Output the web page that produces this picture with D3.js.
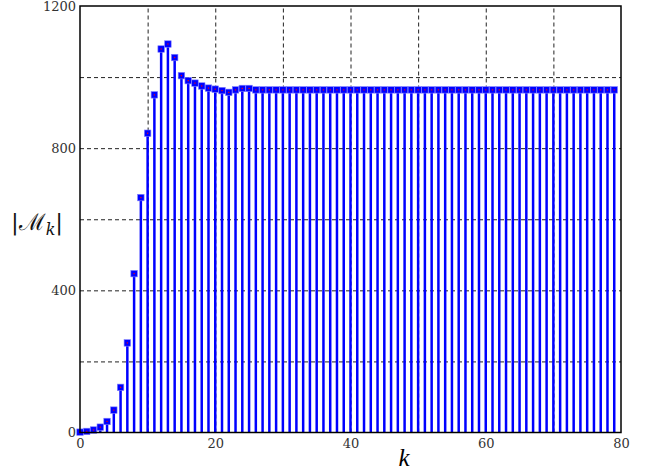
<!DOCTYPE html>
<html>
<head>
<meta charset="utf-8">
<script src="https://cdn.jsdelivr.net/npm/d3@7"></script>
<style>
  body { margin: 0; background: #fff; }
  svg { display: block; }
  .tick text { font-family: "DejaVu Serif", serif; font-size: 13px; fill: #333; }
  .grid line { stroke: #222; stroke-dasharray: 4,3; stroke-width: 1; }
  .grid path { display: none; }
</style>
</head>
<body>
<svg id="chart" width="647" height="474"></svg>
<script>
// k = 0..79
var kValues = [0,1,2,3,4,5,6,7,8,9,10,11,12,13,14,15,16,17,18,19,
               20,21,22,23,24,25,26,27,28,29,30,31,32,33,34,35,36,37,38,39,
               40,41,42,43,44,45,46,47,48,49,50,51,52,53,54,55,56,57,58,59,
               60,61,62,63,64,65,66,67,68,69,70,71,72,73,74,75,76,77,78,79];
var mValues = [1,3,7,15,31,63,127,252,447,661,842,950,1079,1093,1055,1004,990,983,975,969,
               966,962,957,964,968,968,964,964,964,964,964,964,964,964,964,964,964,964,964,964,
               964,964,964,964,964,964,964,964,964,964,964,964,964,964,964,964,964,964,964,964,
               964,964,964,964,964,964,964,964,964,964,964,964,964,964,964,964,964,964,964,964];
var xTicks = [0, 20, 40, 60, 80];
var yTicks = [0, 400, 800, 1200];
var xGrid  = [10, 20, 30, 40, 50, 60, 70];
var yGrid  = [200, 400, 600, 800, 1000];

var svg = d3.select('#chart'),
    margin = {top: 6, left: 80, right: 26, bottom: 41.5},
    width  = +svg.attr('width') - margin.left - margin.right,
    height = +svg.attr('height') - margin.top - margin.bottom,
    g = svg.append('g').attr('transform', 'translate(' + margin.left + ',' + margin.top + ')');

var x = d3.scaleLinear().domain([0, 80]).range([0, width]);
var y = d3.scaleLinear().domain([0, 1200]).range([height, 0]);

// grid
g.append('g')
    .attr('class', 'grid')
    .call(d3.axisLeft(y).tickValues(yGrid).tickSize(-width).tickFormat(''));
g.append('g')
    .attr('class', 'grid')
    .attr('transform', 'translate(0,' + height + ')')
    .call(d3.axisBottom(x).tickValues(xGrid).tickSize(-height).tickFormat(''))
  .selectAll('line').attr('stroke', '#444');

// stems
var data = kValues.map(function(k, i) { return {k: k, v: mValues[i]}; });
g.selectAll('.stem')
    .data(data)
  .enter().append('line')
    .attr('class', 'stem')
    .attr('x1', function(d) { return x(d.k); })
    .attr('x2', function(d) { return x(d.k); })
    .attr('y1', y(0))
    .attr('y2', function(d) { return y(d.v); })
    .attr('stroke', '#0000ff')
    .attr('stroke-width', 2.5);

// markers
var ms = 6.5;
g.selectAll('.mark')
    .data(data)
  .enter().append('rect')
    .attr('class', 'mark')
    .attr('x', function(d) { return x(d.k) - ms/2; })
    .attr('y', function(d) { return y(d.v) - ms/2; })
    .attr('width', ms).attr('height', ms)
    .attr('fill', '#0000ff')
    .attr('stroke', '#8080ff').attr('stroke-width', 0.6);
g.selectAll('.dot')
    .data(data)
  .enter().append('rect')
    .attr('class', 'dot')
    .attr('x', function(d) { return x(d.k) - 0.6; })
    .attr('y', function(d) { return y(d.v) - 0.6; })
    .attr('width', 1.2).attr('height', 1.2)
    .attr('fill', '#ff0000');

// frame
g.append('rect')
    .attr('width', width).attr('height', height)
    .attr('fill', 'none').attr('stroke', '#000').attr('stroke-width', 1.5);

// tick labels
var yAx = g.append('g')
    .call(d3.axisLeft(y).tickValues(yTicks).tickSize(0).tickPadding(4).tickFormat(d3.format('d')));
yAx.select('.domain').remove();
var xAx = g.append('g')
    .attr('transform', 'translate(0,' + height + ')')
    .call(d3.axisBottom(x).tickValues(xTicks).tickSize(0).tickPadding(6).tickFormat(d3.format('d')));
xAx.select('.domain').remove();

// axis labels
svg.append('text')
    .attr('x', 404).attr('y', 466)
    .attr('text-anchor', 'middle')
    .style('font-family', '"Liberation Serif", serif')
    .style('font-style', 'italic')
    .style('font-size', '25px')
    .text('k');

var yl = svg.append('text')
    .attr('x', 37).attr('y', 230)
    .attr('text-anchor', 'middle')
    .style('font-family', '"DejaVu Serif", "Liberation Serif", serif')
    .style('font-size', '23px')
    .style('fill', '#111');
yl.append('tspan').text('|ℳ');
yl.append('tspan').attr('dy', 5).style('font-size', '16px').style('font-style', 'italic').text('k');
yl.append('tspan').attr('dy', -5).text('|');
</script>
</body>
</html>
